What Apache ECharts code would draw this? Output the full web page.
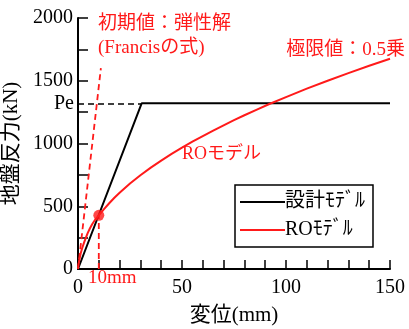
<!DOCTYPE html>
<html>
<head>
<meta charset="utf-8">
<script src="https://cdn.jsdelivr.net/npm/echarts@6/dist/echarts.min.js"></script>
<style>
  html, body { margin: 0; padding: 0; background: #fff; }
  #chart { width: 409px; height: 329px; }
</style>
</head>
<body>
<div id="chart"></div>
<script>
// Load–displacement relation of the subgrade reaction (kN vs mm)

// RO model curve
const roDisp = [0, 0.5, 1.3, 2, 2.9, 3.8, 4.7, 5.7, 6.8, 8.3, 10, 12.5, 15, 17.5, 20, 25, 30, 35, 40, 45, 50, 55, 60, 65, 70, 75, 80, 86, 92, 100, 110, 120, 130, 140, 150];
const roLoad = [0, 62, 125, 165, 210, 250, 288, 323, 357, 394, 428, 477, 524, 568, 608, 681, 747, 808, 864, 917, 967, 1014, 1059, 1103, 1145, 1186, 1225, 1270, 1315, 1370, 1437, 1500, 1561, 1619, 1675];

// Design model (bilinear)
const designDisp = [0, 30.6, 150];
const designLoad = [0, 1320, 1320];

// Initial stiffness line (elastic solution, Francis)
const elasticDisp = [0, 11];
const elasticLoad = [0, 1600];

// Yield load Pe and reference point at 10 mm
const peLoad = 1320;
const peDisp = 30.6;
const refDisp = 10;
const refLoad = 428;

// Axis ticks
const xTicks = [0, 50, 100, 150];
const yTicks = [0, 500, 1000, 1500, 2000];

const SERIF = "'Liberation Serif', 'Noto Sans CJK JP', serif";
const RED = '#ff1a1a';

const pairs = (xs, ys) => xs.map((x, i) => [x, ys[i]]);

const chart = echarts.init(document.getElementById('chart'), null, { renderer: 'canvas' });

const tickStyle = { color: '#000', width: 1.5 };

chart.setOption({
  animation: false,
  backgroundColor: '#fff',
  textStyle: { fontFamily: SERIF },
  grid: { left: 78, right: 19, top: 18, bottom: 60, containLabel: false, outerBoundsMode: 'none' },
  xAxis: {
    type: 'value',
    min: xTicks[0], max: xTicks[xTicks.length - 1], interval: 50,
    name: '変位(mm)', nameLocation: 'middle', nameGap: 36,
    nameTextStyle: { fontSize: 21, color: '#000', fontFamily: SERIF },
    axisLine: { show: true, lineStyle: { color: '#000', width: 2 } },
    axisTick: { show: true, inside: true, length: 9, lineStyle: tickStyle },
    minorTick: { show: true, splitNumber: 5, length: 9, lineStyle: tickStyle },
    axisLabel: {
      fontSize: 20, color: '#000', margin: 9, fontFamily: SERIF,
      alignMinLabel: 'center', alignMaxLabel: 'center', hideOverlap: false
    },
    splitLine: { show: false }
  },
  yAxis: {
    type: 'value',
    min: yTicks[0], max: yTicks[yTicks.length - 1], interval: 500,
    name: '地盤反力(kN)', nameLocation: 'middle', nameGap: 44,
    nameTextStyle: { fontSize: 21, color: '#000', fontFamily: SERIF },
    axisLine: { show: true, lineStyle: { color: '#000', width: 2 } },
    axisTick: { show: true, inside: true, length: 10, lineStyle: tickStyle },
    minorTick: { show: true, splitNumber: 2, length: 10, lineStyle: tickStyle },
    axisLabel: {
      fontSize: 20, color: '#000', margin: 5, fontFamily: SERIF,
      formatter: (v) => String(v),
      verticalAlignMinLabel: 'middle', verticalAlignMaxLabel: 'middle', hideOverlap: false
    },
    splitLine: { show: false }
  },
  legend: {
    data: ['設計ﾓﾃﾞﾙ', 'ROﾓﾃﾞﾙ'],
    orient: 'vertical',
    left: 235, top: 185,
    padding: [6, 8, 6, 5],
    itemGap: 6,
    icon: 'rect',
    itemWidth: 45, itemHeight: 2,
    backgroundColor: '#fff',
    borderColor: '#000', borderWidth: 1.5,
    textStyle: { fontSize: 20, color: '#000', fontFamily: SERIF, padding: [0, 0, 0, -5], lineHeight: 22 }
  },
  series: [
    {
      name: 'ROﾓﾃﾞﾙ',
      type: 'line',
      data: pairs(roDisp, roLoad),
      smooth: false,
      symbol: 'none',
      lineStyle: { color: RED, width: 2, join: 'round' },
      itemStyle: { color: RED },
      z: 4
    },
    {
      name: '設計ﾓﾃﾞﾙ',
      type: 'line',
      data: pairs(designDisp, designLoad),
      symbol: 'none',
      lineStyle: { color: '#000', width: 2 },
      itemStyle: { color: '#000' },
      z: 3,
      markLine: {
        silent: true,
        symbol: ['none', 'none'],
        lineStyle: { color: '#000', type: [6, 4], width: 1.5 },
        label: {
          show: true, position: 'start', distance: 4, formatter: 'Pe',
          fontSize: 20, color: '#000', fontFamily: SERIF
        },
        data: [[{ coord: [0, peLoad] }, { coord: [peDisp, peLoad] }]]
      }
    },
    {
      name: 'elastic',
      type: 'line',
      data: pairs(elasticDisp, elasticLoad),
      symbol: 'none',
      lineStyle: { color: RED, width: 1.8, type: [6, 4] },
      z: 2
    },
    {
      name: 'ref10',
      type: 'line',
      data: [[refDisp, 0], [refDisp, refLoad]],
      symbol: 'none',
      lineStyle: { color: RED, width: 1.8, type: [6, 4] },
      z: 2
    },
    {
      name: 'refPoint',
      type: 'scatter',
      data: [[refDisp, refLoad]],
      symbolSize: 11,
      itemStyle: { color: RED },
      z: 5
    }
  ],
  graphic: [
    { type: 'text', left: 98, top: 15, z: 10,
      style: { text: '初期値：弾性解', fontSize: 19, fill: RED, fontFamily: SERIF } },
    { type: 'text', left: 98, top: 39, z: 10,
      style: { text: '(Francisの式)', fontSize: 19, fill: RED, fontFamily: SERIF } },
    { type: 'text', right: 4, top: 41, z: 10,
      style: { text: '極限値：0.5乗', fontSize: 19, fill: RED, fontFamily: SERIF } },
    { type: 'text', left: 182, top: 145, z: 10,
      style: { text: 'ROモデル', fontSize: 18, fill: RED, fontFamily: SERIF } },
    { type: 'text', left: 88, top: 269, z: 10,
      style: { text: '10mm', fontSize: 19, fill: RED, fontFamily: SERIF } }
  ]
});
</script>
</body>
</html>
